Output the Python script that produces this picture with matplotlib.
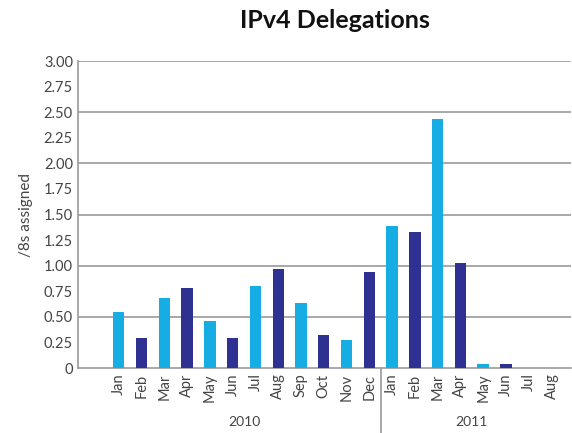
import matplotlib
matplotlib.use("Agg")
from matplotlib import pyplot as plt
from matplotlib import transforms

plt.rcParams["font.family"] = ["Lato", "DejaVu Sans"]

MONTHS = ["Jan", "Feb", "Mar", "Apr", "May", "Jun", "Jul", "Aug", "Sep", "Oct", "Nov", "Dec",
          "Jan", "Feb", "Mar", "Apr", "May", "Jun", "Jul", "Aug"]
VALUES_2010 = [0.55, 0.29, 0.68, 0.78, 0.46, 0.29, 0.80, 0.97, 0.64, 0.32, 0.27, 0.94]
VALUES_2011 = [1.39, 1.33, 2.43, 1.03, 0.04, 0.04, 0.0, 0.0]
YEARS = ["2010", "2011"]

LIGHT = "#15ADE3"
DARK = "#2E3192"
TEXT = "#444444"
GRID = "#9a9a9a"

values = VALUES_2010 + VALUES_2011
colours = [LIGHT if i % 2 == 0 else DARK for i in range(len(values))]

fig = plt.figure(figsize=(5.72, 4.33), dpi=100)
ax = fig.add_axes([0.136, 0.150, 0.862, 0.709])

ax.bar(range(len(values)), values, width=0.5, color=colours, zorder=3)

for y in [0.5, 1.0, 1.5, 2.0, 2.5, 3.0]:
    ax.axhline(y, color=GRID, lw=1.2, zorder=1)

ax.set_xlim(-1.8, 19.85)
ax.set_ylim(0, 3.0)
yt = [i * 0.25 for i in range(13)]
ax.set_yticks(yt, labels=["0"] + [f"{v:.2f}" for v in yt[1:]])
ax.set_xticks(range(len(MONTHS)), labels=MONTHS, rotation=90)
ax.tick_params(length=0, colors=TEXT, labelsize=10.5)
ax.tick_params(axis="x", pad=4)

for s in ["top", "right"]:
    ax.spines[s].set_visible(False)
ax.spines["left"].set_color(GRID)
ax.spines["bottom"].set_color(GRID)
ax.spines["left"].set_linewidth(1.2)
ax.spines["bottom"].set_linewidth(1.2)

ax.set_ylabel("/8s assigned", color=TEXT, fontsize=11, labelpad=8)

trans = transforms.blended_transform_factory(ax.transData, fig.transFigure)
n10 = len(VALUES_2010)
ax.plot([n10 - 0.5, n10 - 0.5], [0.150, 0.0], transform=trans, color=GRID,
        lw=1.2, clip_on=False)
ax.text((n10 - 1) / 2, 0.025, YEARS[0], transform=trans, ha="center",
        va="center", color=TEXT, fontsize=10)
ax.text(n10 + (len(VALUES_2011) - 1) / 2, 0.025, YEARS[1], transform=trans,
        ha="center", va="center", color=TEXT, fontsize=10)

fig.text(0.585, 0.953, "IPv4 Delegations", ha="center", va="center",
         fontsize=18, fontweight="bold", color="#111111")

fig.savefig("out.png", dpi=100)
